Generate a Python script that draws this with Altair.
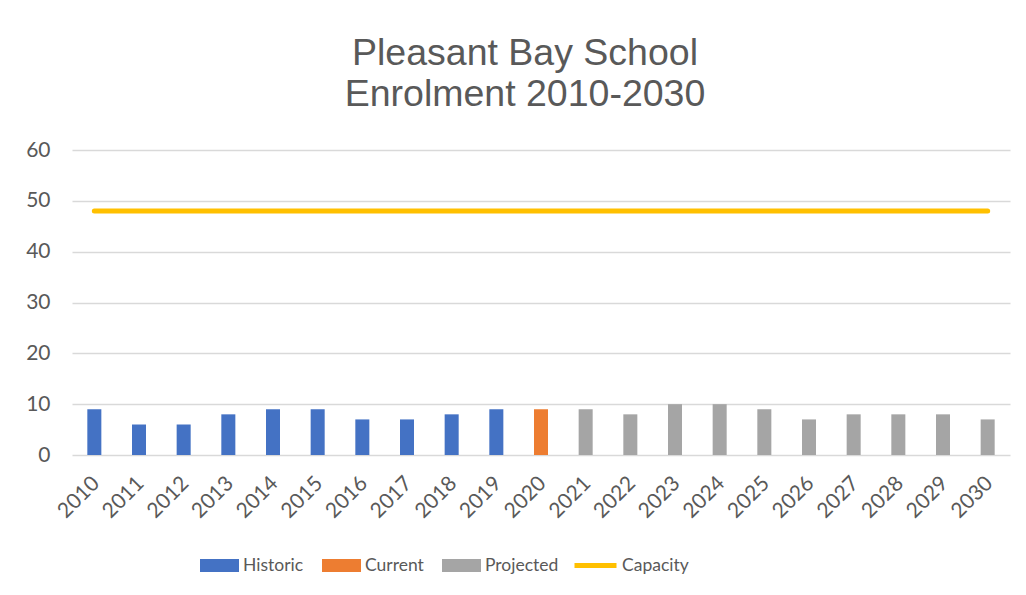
import altair as alt
import pandas as pd

years = [str(y) for y in range(2010, 2031)]
enrolment = [9, 6, 6, 8, 9, 9, 7, 7, 8, 9, 9, 9, 8, 10, 10, 9, 7, 8, 8, 8, 7]
status = ["Historic"] * 10 + ["Current"] + ["Projected"] * 10
capacity = [48] * 21

series_names = ["Historic", "Current", "Projected"]
series_colors = ["#4472C4", "#ED7D31", "#A5A5A5"]
capacity_color = "#FFC000"

df = pd.DataFrame({"Year": years, "Enrolment": enrolment, "Status": status,
                   "Capacity": capacity, "Line": ["Capacity"] * 21})

FONT = "Lato"
GREY = "#595959"

x_enc = alt.X("Year:N", sort=years, title=None,
              scale=alt.Scale(paddingInner=0.686, paddingOuter=0.343),
              axis=alt.Axis(labelAngle=-45, labelAlign="right", labelBaseline="middle",
                            labelFontSize=21, labelFont=FONT, labelColor=GREY,
                            ticks=False, domain=False, grid=False, labelPadding=25,
                            labelOffset=2))

bars = alt.Chart(df).mark_bar().encode(
    x=x_enc,
    y=alt.Y("Enrolment:Q", title=None,
            scale=alt.Scale(domain=[0, 60]),
            axis=alt.Axis(values=[0, 10, 20, 30, 40, 50, 60], ticks=False, domain=False,
                          labelFontSize=21, labelFont=FONT, labelColor=GREY,
                          labelPadding=22, gridColor="#D9D9D9", gridWidth=1.3)),
    color=alt.Color("Status:N", title=None,
                    scale=alt.Scale(domain=series_names, range=series_colors),
                    legend=alt.Legend(orient="none", legendX=128, legendY=396,
                                      direction="horizontal", columns=3,
                                      symbolType="M-1,-0.333H1V0.333H-1Z",
                                      symbolSize=1521, symbolStrokeWidth=0,
                                      labelFont=FONT, labelFontSize=17.5, labelColor=GREY,
                                      labelOffset=4, columnPadding=18, padding=0)),
)

line = alt.Chart(df).mark_line(strokeWidth=5, strokeCap="round").encode(
    x=alt.X("Year:N", sort=years),
    y=alt.Y("Capacity:Q"),
    stroke=alt.Stroke("Line:N", title=None,
                      scale=alt.Scale(domain=["Capacity"], range=[capacity_color]),
                      legend=alt.Legend(orient="none", legendX=500, legendY=392,
                                        symbolType="stroke", symbolSize=1764,
                                        symbolStrokeWidth=5,
                                        labelFont=FONT, labelFontSize=17.5, labelColor=GREY,
                                        labelOffset=3, padding=0)),
)

chart = alt.layer(bars, line).resolve_scale(color="independent").properties(
    width=938, height=305,
    padding={"left": 64, "top": 142, "right": 8, "bottom": 140},
    autosize=alt.AutoSizeParams(type="none"),
    background="white",
    title=alt.TitleParams(["Pleasant Bay School", "Enrolment 2010-2030"],
                          font="Liberation Sans", fontSize=37.5, fontWeight="normal",
                          color=GREY, anchor="middle", lineHeight=41, offset=26, dx=-16),
).configure_view(strokeWidth=0)

chart.save("out.html", embed_options={"renderer": "svg", "actions": False})
